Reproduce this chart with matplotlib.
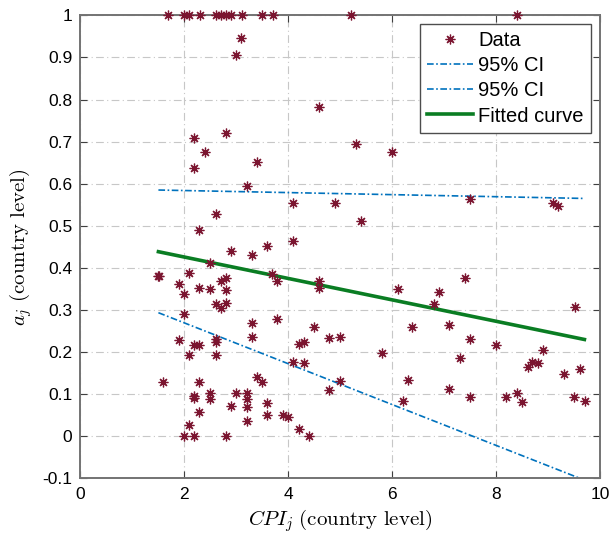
import numpy as np
import matplotlib
matplotlib.use('Agg')
import matplotlib.pyplot as plt
from matplotlib.ticker import FormatStrFormatter

# country-level data points
cpi = [1.69, 2.00, 2.09, 2.30, 2.60, 2.70, 2.80, 2.89, 3.10, 3.50, 3.70, 5.20, 8.40,
       3.09, 3.00, 4.60, 2.19, 2.80, 5.30, 2.39, 3.40, 6.00, 2.19, 3.20, 4.09, 4.90,
       5.39, 7.50, 9.10, 9.20, 2.60, 2.29, 2.89, 3.30, 3.59, 4.09, 2.49, 1.50, 1.52,
       2.09, 1.89, 2.00, 2.29, 2.49, 2.70, 2.80, 2.80, 2.60, 2.80, 2.70, 3.69, 3.79,
       4.60, 4.60, 7.40, 6.11, 6.90, 6.80, 9.51,
       2.00, 1.89, 2.19, 2.29, 2.60, 2.60, 2.09, 2.60, 3.30, 3.30, 3.79, 4.49, 4.20,
       4.30, 4.79, 4.99, 4.09, 4.30, 5.80, 1.59, 2.29, 4.99, 4.79, 3.39, 3.50, 2.49,
       2.49, 2.19, 2.19, 3.00, 3.20, 3.20, 3.20, 2.89, 3.59, 3.59, 2.29, 3.89, 4.00,
       3.20, 2.09, 4.20, 2.00, 2.19, 2.80, 4.40,
       6.39, 7.10, 7.50, 8.00, 8.90, 7.30, 8.61, 8.70, 8.80, 9.30, 9.61, 6.30, 6.20,
       7.10, 7.50, 8.20, 8.40, 8.50, 9.50, 9.71]
aj = [1, 1, 1, 1, 1, 1, 1, 1, 1, 1, 1, 1, 1,
      0.945, 0.906, 0.783, 0.708, 0.721, 0.694, 0.676, 0.652, 0.675, 0.637, 0.595, 0.555, 0.555,
      0.511, 0.563, 0.555, 0.547, 0.528, 0.490, 0.441, 0.430, 0.452, 0.464, 0.411, 0.381, 0.380,
      0.387, 0.361, 0.338, 0.353, 0.351, 0.369, 0.377, 0.347, 0.314, 0.316, 0.304, 0.385, 0.369,
      0.369, 0.353, 0.377, 0.350, 0.342, 0.314, 0.306,
      0.291, 0.229, 0.217, 0.218, 0.225, 0.230, 0.193, 0.193, 0.268, 0.237, 0.279, 0.260, 0.219,
      0.225, 0.233, 0.237, 0.177, 0.173, 0.197, 0.128, 0.128, 0.132, 0.110, 0.140, 0.128, 0.104,
      0.089, 0.096, 0.092, 0.102, 0.102, 0.089, 0.070, 0.072, 0.080, 0.051, 0.057, 0.051, 0.045,
      0.037, 0.028, 0.018, 0.0, 0.0, 0.0, 0.0,
      0.260, 0.265, 0.231, 0.218, 0.205, 0.185, 0.165, 0.177, 0.173, 0.148, 0.160, 0.134, 0.085,
      0.112, 0.094, 0.094, 0.104, 0.081, 0.093, 0.084]

# fitted line and confidence bounds at the ends of the fit range
fit_x = [1.5, 9.7]
fit_y = [0.4385, 0.2300]
ci_upper = [0.585, 0.565]
ci_lower = [0.2936, -0.104]

plt.rcParams['font.family'] = ['Liberation Sans', 'DejaVu Sans']
plt.rcParams['mathtext.fontset'] = 'cm'

fig = plt.figure(figsize=(6.13, 5.37), dpi=100)
ax = fig.add_axes([0.1313, 0.1091, 0.8475, 0.8624])

ax.plot(cpi, aj, linestyle='none', marker=(8, 2, 0), markersize=7,
        markeredgewidth=0.9, color='#7b1530', label='Data', clip_on=False, zorder=3)
ax.plot(fit_x, ci_upper, color='#0072BD', lw=1.2, dashes=(4, 1.5, 1, 1.5), label='95% CI')
ax.plot(fit_x, ci_lower, color='#0072BD', lw=1.2, dashes=(4, 1.5, 1, 1.5), label='95% CI')
ax.plot(fit_x, fit_y, '-', color='#0a7d23', lw=2.6, label='Fitted curve')

ax.set_xlim(0, 10)
ax.set_ylim(-0.1, 1)
ax.set_xticks(np.arange(0, 11, 2))
ax.set_yticks(np.round(np.arange(-0.1, 1.01, 0.1), 1))
ax.yaxis.set_major_formatter(FormatStrFormatter('%g'))
ax.tick_params(direction='in', top=True, right=True, labelsize=12.5, length=5,
               color='0.25', pad=6)
ax.grid(True, color='0.78', lw=0.8, dashes=(7, 3, 1, 3))
ax.set_axisbelow(True)
for s in ax.spines.values():
    s.set_color('0.45')
    s.set_linewidth(1.4)

ax.set_xlabel(r'$CPI_j\ \mathrm{(country\ level)}$', fontsize=15, labelpad=4)
ax.set_ylabel(r'$a_j\ \mathrm{(country\ level)}$', fontsize=15, labelpad=6)

leg = ax.legend(loc='upper right', fontsize=14.5, fancybox=False, framealpha=1,
                edgecolor='0.3', borderpad=0.35, labelspacing=0.3,
                handlelength=2.3, handletextpad=0.25, borderaxespad=0.45)
leg.get_frame().set_linewidth(1.0)

plt.savefig('out.png', dpi=100)
